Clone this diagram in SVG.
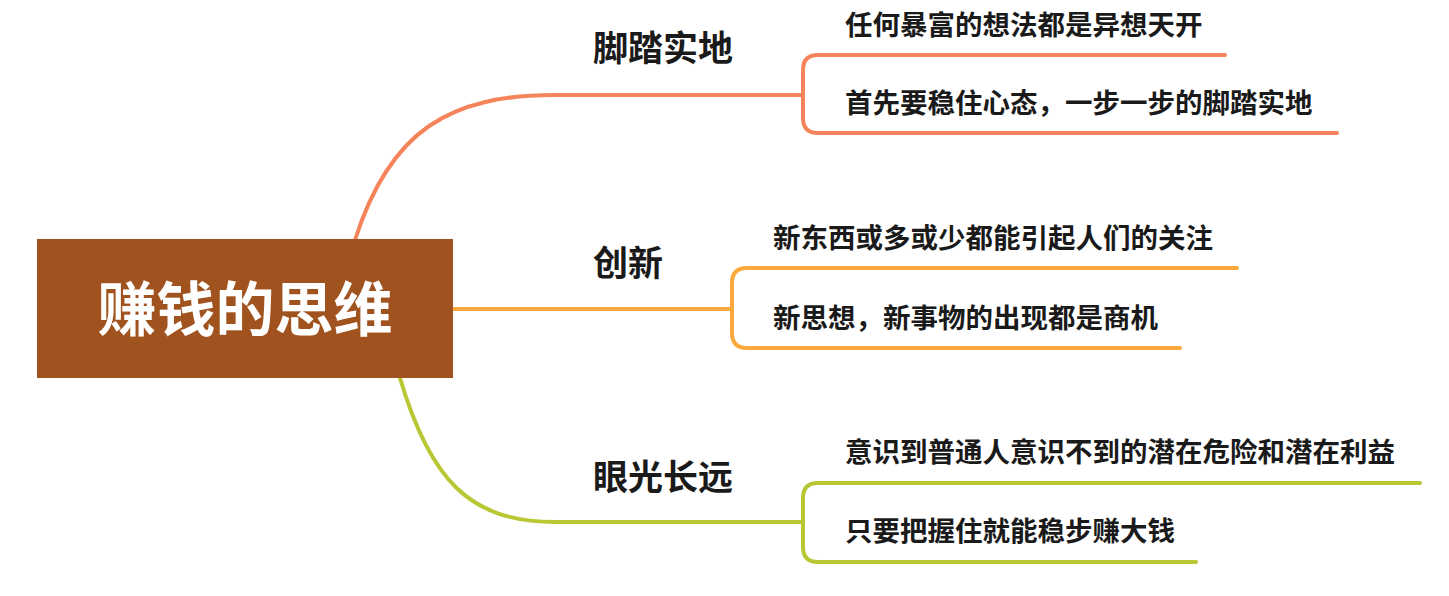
<svg xmlns="http://www.w3.org/2000/svg" width="1449" height="596" viewBox="0 0 1449 596">
<style>
.l{fill:none;stroke-width:4;stroke-linecap:round}
.t{font-family:"Noto Sans CJK SC","Liberation Sans",sans-serif;font-weight:bold;fill:#1a1a1a}
.s{font-size:27.5px}
.b{font-size:35px}
</style>
<rect width="1449" height="596" fill="#fff"/>
<g id="connectors">
<path class="l" stroke="#F5845A" d="M355,240 C390,130 450,95 555,95 L803,95 M1225,55 L818,55 Q803,55 803,70 L803,118 Q803,133 818,133 L1337,133"/>
<path class="l" stroke="#FAAA3C" d="M453,309 L732,309 M1237,268 L747,268 Q732,268 732,283 L732,333 Q732,348 747,348 L1180,348"/>
<path class="l" stroke="#B8C733" d="M400,378 C430,480 470,522 555,522 L803,522 M1420,483 L818,483 Q803,483 803,498 L803,547 Q803,562 818,562 L1196,562"/>
</g>
<g id="root"><rect x="37" y="239" width="416" height="139" fill="#A0531F"/>
<text x="245" y="331" text-anchor="middle" font-family="Noto Sans CJK SC,sans-serif" font-weight="bold" font-size="59" fill="#fff">赚钱的思维</text></g>
<g id="n1"><text class="t b" x="593" y="61">脚踏实地</text></g>
<g id="n2"><text class="t b" x="593" y="276">创新</text></g>
<g id="n3"><text class="t b" x="593" y="490">眼光长远</text></g>
<g id="n11"><text class="t s" x="845" y="35">任何暴富的想法都是异想天开</text></g>
<g id="n12"><text class="t s" x="845" y="113">首先要稳住心态，一步一步的脚踏实地</text></g>
<g id="n21"><text class="t s" x="773" y="248">新东西或多或少都能引起人们的关注</text></g>
<g id="n22"><text class="t s" x="773" y="328">新思想，新事物的出现都是商机</text></g>
<g id="n31"><text class="t s" x="845" y="462">意识到普通人意识不到的潜在危险和潜在利益</text></g>
<g id="n32"><text class="t s" x="845" y="541">只要把握住就能稳步赚大钱</text></g>
</svg>
